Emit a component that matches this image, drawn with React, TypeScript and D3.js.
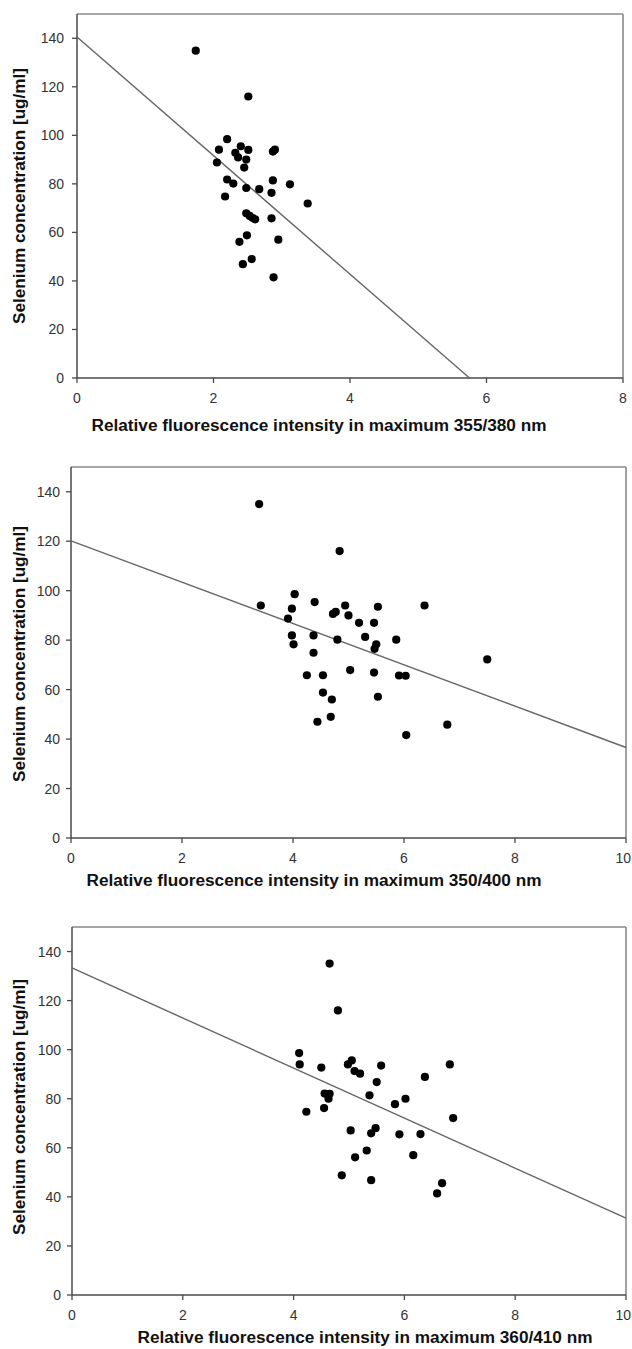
import React from "react";
import * as d3 from "d3";

// Panel 1: 355/380 nm
const p1x = [1.74, 2.51, 2.20, 2.08, 2.40, 2.51, 2.32, 2.36, 2.48, 2.05, 2.45, 2.87, 2.90, 2.20, 2.29, 2.48, 2.67, 2.85, 2.87, 3.12, 2.17, 3.38, 2.48, 2.53, 2.61, 2.85, 2.49, 2.38, 2.95, 2.56, 2.43, 2.88, 2.57];
const p1y = [134.9, 116, 98.4, 94.1, 95.5, 94.0, 92.8, 90.9, 90.0, 88.8, 86.7, 93.3, 94.1, 81.8, 80.1, 78.3, 77.8, 76.3, 81.4, 79.8, 74.8, 71.9, 67.9, 66.8, 65.4, 65.8, 58.8, 56.1, 57.0, 49.0, 46.9, 41.5, 66.0];

// Panel 2: 350/400 nm
const p2x = [3.39, 3.42, 4.84, 4.03, 3.98, 3.91, 4.39, 3.98, 4.01, 4.37, 4.37, 4.72, 4.77, 4.94, 5.00, 5.19, 5.46, 5.53, 5.30, 4.80, 5.50, 5.47, 5.86, 6.37, 4.25, 4.54, 5.03, 5.46, 5.91, 6.03, 4.54, 4.70, 5.53, 4.68, 4.44, 6.04, 6.78, 7.50];
const p2y = [135, 94, 116, 98.6, 92.7, 88.7, 95.4, 81.9, 78.3, 81.9, 74.9, 90.6, 91.4, 94, 90, 87, 87, 93.5, 81.3, 80.2, 78.3, 76.5, 80.2, 94, 65.8, 65.8, 67.9, 66.9, 65.7, 65.6, 58.8, 56, 57.1, 49, 47, 41.6, 45.8, 72.2];

// Panel 3: 360/410 nm
const p3x = [4.65, 4.80, 4.10, 4.11, 4.50, 4.98, 5.05, 5.10, 5.20, 5.58, 6.82, 6.37, 5.50, 4.56, 4.65, 4.63, 4.23, 4.55, 5.37, 5.83, 6.02, 6.88, 5.03, 5.40, 5.48, 5.91, 6.29, 5.32, 5.11, 6.16, 4.87, 5.40, 6.68, 6.59];
const p3y = [135.1, 116, 98.6, 94, 92.7, 94, 95.6, 91.3, 90.2, 93.5, 94, 88.9, 86.8, 82.1, 82, 80, 74.7, 76.2, 81.4, 77.8, 80, 72.1, 67.1, 65.9, 68, 65.5, 65.6, 58.9, 56.1, 57, 48.8, 46.8, 45.6, 41.4];

// Regression lines: intercept, slope
const intercepts = [140.5, 120.1, 133.3];
const slopes = [-24.43, -8.35, -10.2];

const yTicks = [0, 20, 40, 60, 80, 100, 120, 140];
const xTicks1 = [0, 2, 4, 6, 8];
const xTicks23 = [0, 2, 4, 6, 8, 10];
const yTitle = "Selenium concentration [ug/ml]";
const xTitles = [
  "Relative fluorescence intensity in maximum 355/380 nm",
  "Relative fluorescence intensity in maximum 350/400 nm",
  "Relative fluorescence intensity in maximum 360/410 nm",
];

const FONT = "'Liberation Sans', Arial, sans-serif";
const W = 632;

type PanelSpec = {
  xs: number[];
  ys: number[];
  xMax: number;
  xTicks: number[];
  left: number;
  right: number;
  top: number;
  bottom: number;
  intercept: number;
  slope: number;
  xTitle: string;
  xTitleX: number;
  xTitleY: number;
  yTitleX: number;
  yTitleY: number;
  yLabelGap: number;
};

function Panel(p: PanelSpec) {
  const x = d3.scaleLinear().domain([0, p.xMax]).range([p.left, p.right]);
  const y = d3.scaleLinear().domain([0, 150]).range([p.bottom, p.top]);
  const xEnd = Math.min(p.xMax, -p.intercept / p.slope);
  const lineGen = d3
    .line<number>()
    .x((d) => x(d))
    .y((d) => y(p.intercept + p.slope * d));
  const axisColor = "#4a4a4a";
  const frameColor = "#8a8a8a";
  return (
    <g>
      <line x1={p.left} x2={p.right} y1={p.top} y2={p.top} stroke={frameColor} strokeWidth={1.6} />
      <line x1={p.right} x2={p.right} y1={p.top} y2={p.bottom} stroke={frameColor} strokeWidth={1.6} />
      <line x1={p.left} x2={p.left} y1={p.top} y2={p.bottom} stroke={axisColor} strokeWidth={1.5} />
      <line x1={p.left} x2={p.right} y1={p.bottom} y2={p.bottom} stroke={axisColor} strokeWidth={1.5} />
      {yTicks.map((t) => (
        <g key={"y" + t}>
          <line x1={p.left - 5} x2={p.left} y1={y(t)} y2={y(t)} stroke={axisColor} strokeWidth={1.3} />
          <text
            x={p.left - p.yLabelGap}
            y={y(t)}
            textAnchor="end"
            dominantBaseline="central"
            fontFamily={FONT}
            fontSize={14}
            fill="#333"
          >
            {t}
          </text>
        </g>
      ))}
      {p.xTicks.map((t) => {
        const label = String(t);
        const half = label.length * 3.9;
        const cx = Math.min(x(t), W - 1 - half);
        return (
          <g key={"x" + t}>
            <line x1={x(t)} x2={x(t)} y1={p.bottom} y2={p.bottom + 5} stroke={axisColor} strokeWidth={1.3} />
            <text
              x={cx}
              y={p.bottom + 20}
              textAnchor="middle"
              dominantBaseline="central"
              fontFamily={FONT}
              fontSize={14}
              fill="#333"
            >
              {label}
            </text>
          </g>
        );
      })}
      <path d={lineGen([0, xEnd]) || ""} stroke="#666" strokeWidth={1.4} fill="none" />
      {p.xs.map((v, i) => (
        <circle key={i} cx={x(v)} cy={y(p.ys[i])} r={4.1} fill="#000" />
      ))}
      <text
        x={p.xTitleX}
        y={p.xTitleY}
        textAnchor="middle"
        dominantBaseline="central"
        fontFamily={FONT}
        fontWeight="bold"
        fontSize={16}
        textLength={455}
        lengthAdjust="spacingAndGlyphs"
        fill="#111"
      >
        {p.xTitle}
      </text>
      <text
        transform={`translate(${p.yTitleX},${p.yTitleY}) rotate(-90)`}
        textAnchor="middle"
        dominantBaseline="central"
        fontFamily={FONT}
        fontWeight="bold"
        fontSize={16}
        textLength={256}
        lengthAdjust="spacingAndGlyphs"
        fill="#111"
      >
        {yTitle}
      </text>
    </g>
  );
}

export default function App() {
  const panels: PanelSpec[] = [
    {
      xs: p1x, ys: p1y, xMax: 8, xTicks: xTicks1,
      left: 77, right: 623, top: 14, bottom: 378,
      intercept: intercepts[0], slope: slopes[0], xTitle: xTitles[0],
      xTitleX: 319, xTitleY: 425, yTitleX: 19, yTitleY: 196, yLabelGap: 13,
    },
    {
      xs: p2x, ys: p2y, xMax: 10, xTicks: xTicks23,
      left: 71, right: 626, top: 467, bottom: 838,
      intercept: intercepts[1], slope: slopes[1], xTitle: xTitles[1],
      xTitleX: 314, xTitleY: 880, yTitleX: 19, yTitleY: 654, yLabelGap: 11,
    },
    {
      xs: p3x, ys: p3y, xMax: 10, xTicks: xTicks23,
      left: 72, right: 626, top: 927, bottom: 1295,
      intercept: intercepts[2], slope: slopes[2], xTitle: xTitles[2],
      xTitleX: 365, xTitleY: 1337, yTitleX: 19, yTitleY: 1107, yLabelGap: 11,
    },
  ];
  return (
    <svg
      width={W}
      height={1349}
      style={{ position: "absolute", left: 0, top: 0, background: "#fff" }}
    >
      <rect width={W} height={1349} fill="#fff" />
      {panels.map((p, i) => (
        <Panel key={i} {...p} />
      ))}
    </svg>
  );
}
